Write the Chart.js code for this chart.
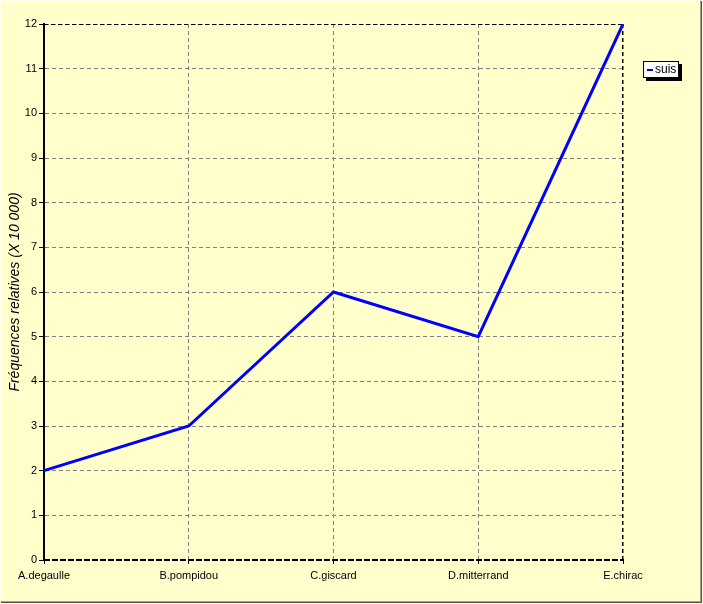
<!DOCTYPE html>
<html>
<head>
<meta charset="utf-8">
<script src="https://cdn.jsdelivr.net/npm/chart.js@4"></script>
<style>
  html, body { margin: 0; padding: 0; background: #ffffcc; }
  #wrap {
    position: absolute; left: 0; top: 0;
    width: 699px; height: 600px;
    border-top: 1px solid #ffffee; border-left: 1px solid #ffffee;
    border-right: 1px solid #a0a0a0; border-bottom: 1px solid #a0a0a0;
    box-shadow: 1px 1px 0 #505050;
    background: #ffffcc;
  }
  #outer { position: absolute; left: 0; top: 0; width: 703px; height: 604px; }
</style>
</head>
<body>
<div id="wrap"></div>
<div id="outer"><canvas id="chart" width="703" height="604"></canvas></div>
<script>
// data
const categories = ['A.degaulle', 'B.pompidou', 'C.giscard', 'D.mitterrand', 'E.chirac'];
const suisValues = [2, 3, 6, 5, 12];
const seriesName = 'suis';
const yTitle = 'Fréquences relatives (X 10 000)';

const FONT = '"Liberation Sans", Arial, sans-serif';

// boîte de légende avec ombre, en haut à droite
const legendBox = {
  id: 'legendBox',
  afterDraw(chart) {
    const c = chart.ctx;
    const x = 643, y = 61, w = 36, h = 17;
    c.save();
    c.fillStyle = '#000';
    c.fillRect(x + 3, y + 3, w, h);
    c.fillStyle = '#fff';
    c.fillRect(x, y, w, h);
    c.strokeStyle = '#000';
    c.lineWidth = 1;
    c.strokeRect(x + 0.5, y + 0.5, w - 1, h - 1);
    c.strokeStyle = '#0000ff';
    c.lineWidth = 2;
    c.beginPath();
    c.moveTo(x + 4, y + 9);
    c.lineTo(x + 10, y + 9);
    c.stroke();
    c.fillStyle = '#000';
    c.font = '12px ' + FONT;
    c.textBaseline = 'middle';
    c.fillText(chart.data.datasets[0].label, x + 12, y + 9);
    c.restore();
  }
};

// bordures pointillées noires (haut, droite, bas)
const frame = {
  id: 'frame',
  beforeDatasetsDraw(chart) {
    const a = chart.chartArea, c = chart.ctx;
    c.save();
    c.strokeStyle = '#000';
    c.lineWidth = 1;
    c.setLineDash([4, 3]);
    c.beginPath();
    c.moveTo(a.left, a.top + 0.5);
    c.lineTo(a.right, a.top + 0.5);
    c.moveTo(a.right - 0.5, a.top);
    c.lineTo(a.right - 0.5, a.bottom);
    c.stroke();
    c.restore();
  },
  afterDatasetsDraw(chart) {
    const a = chart.chartArea, c = chart.ctx;
    c.save();
    c.strokeStyle = '#ffffcc';
    c.lineWidth = 2;
    c.setLineDash([2, 6]);
    c.lineDashOffset = -4;
    c.beginPath();
    c.moveTo(a.left + 2, a.bottom);
    c.lineTo(a.right, a.bottom);
    c.stroke();
    c.restore();
  }
};

new Chart(document.getElementById('chart'), {
  type: 'line',
  data: {
    labels: categories,
    datasets: [{
      label: seriesName,
      data: suisValues,
      borderColor: '#0000ff',
      borderWidth: 3,
      pointRadius: 0,
      tension: 0
    }]
  },
  options: {
    responsive: false,
    animation: false,
    layout: { padding: { top: 24, right: 80, left: 0, bottom: 0 } },
    plugins: { legend: { display: false }, tooltip: { enabled: false } },
    scales: {
      x: {
        offset: false,
        afterFit(s) { s.height = 44; },
        grid: {
          color: '#808080',
          lineWidth: 1,
          tickLength: 4,
          tickColor: '#000'
        },
        border: { color: '#000', width: 2, dash: [4, 3] },
        ticks: { color: '#000', font: { family: FONT, size: 11 }, padding: 5, maxRotation: 0, autoSkip: false }
      },
      y: {
        min: 0, max: 12,
        afterFit(s) { s.width = 44; },
        grid: {
          color: '#808080',
          lineWidth: 1,
          tickLength: 5,
          tickColor: '#000'
        },
        border: { color: '#000', width: 2, dash: [4, 3] },
        ticks: { stepSize: 1, color: '#000', font: { family: FONT, size: 11 }, padding: 2 },
        title: {
          display: true,
          text: yTitle,
          color: '#000',
          font: { family: FONT, size: 14, style: 'italic' },
          padding: { top: 7, bottom: 2 }
        }
      }
    }
  },
  plugins: [frame, legendBox]
});
</script>
</body>
</html>
